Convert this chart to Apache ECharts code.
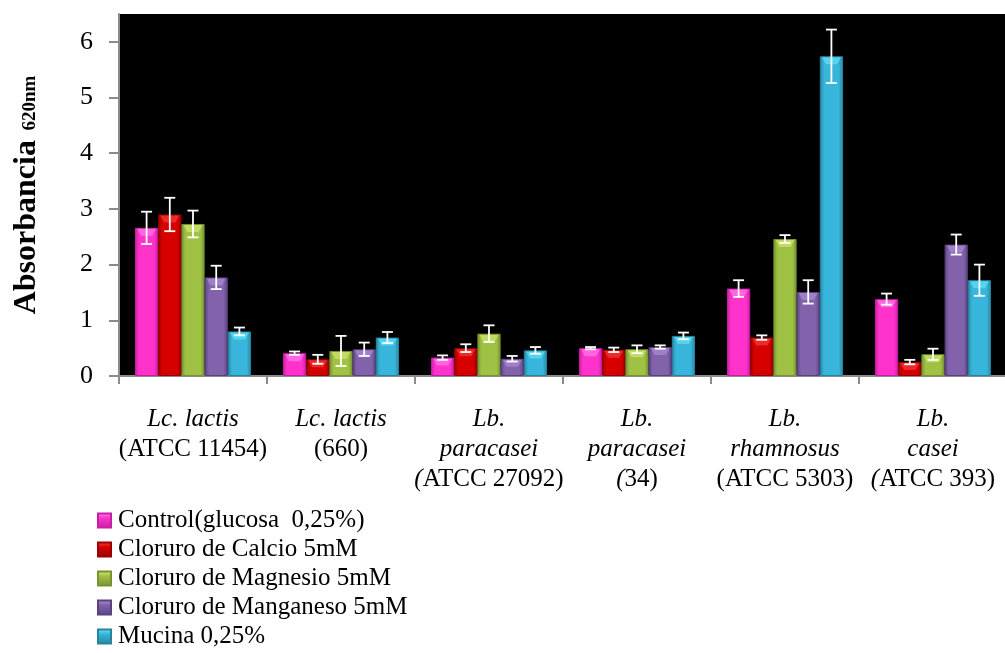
<!DOCTYPE html>
<html>
<head>
<meta charset="utf-8">
<script src="https://cdn.jsdelivr.net/npm/echarts@6/dist/echarts.min.js"></script>
<style>
  html, body { margin: 0; padding: 0; background: #ffffff; }
  #chart { width: 1005px; height: 653px; }
</style>
</head>
<body>
<div id="chart"></div>
<script>
// Strains (species in italics, strain code upright)
const categories = [
  '{i|Lc. lactis}\n{n|(ATCC 11454)}',
  '{i|Lc. lactis}\n{n|(660)}',
  '{i|Lb.}\n{i|paracasei}\n{i|(}{n|ATCC 27092)}',
  '{i|Lb.}\n{i|paracasei}\n{i|(}{n|34)}',
  '{i|Lb.}\n{i|rhamnosus}\n{n|(ATCC 5303)}',
  '{i|Lb.}\n{i|casei}\n{i|(}{n|ATCC 393)}'
];

const seriesNames = [
  'Control(glucosa  0,25%)',
  'Cloruro de Calcio 5mM',
  'Cloruro de Magnesio 5mM',
  'Cloruro de Manganeso 5mM',
  'Mucina 0,25%'
];

// Mean absorbance at 620 nm and error per condition
const control      = [2.66, 0.41, 0.33, 0.50, 1.57, 1.38];
const controlErr   = [0.29, 0.03, 0.04, 0.02, 0.15, 0.10];
const calcio       = [2.90, 0.30, 0.50, 0.47, 0.69, 0.25];
const calcioErr    = [0.30, 0.08, 0.07, 0.04, 0.04, 0.04];
const magnesio     = [2.73, 0.45, 0.76, 0.48, 2.46, 0.39];
const magnesioErr  = [0.24, 0.27, 0.15, 0.07, 0.07, 0.10];
const manganeso    = [1.77, 0.48, 0.31, 0.52, 1.51, 2.36];
const manganesoErr = [0.21, 0.12, 0.05, 0.03, 0.21, 0.18];
const mucina       = [0.80, 0.69, 0.46, 0.72, 5.74, 1.72];
const mucinaErr    = [0.07, 0.10, 0.06, 0.06, 0.48, 0.28];

const yTicks = [0, 1, 2, 3, 4, 5, 6];

const values = [control, calcio, magnesio, manganeso, mucina];
const errors = [controlErr, calcioErr, magnesioErr, manganesoErr, mucinaErr];

// edge, body, highlight colours for each condition
const palette = [
  ['#c81ea3', '#ff33cc', '#ff8cf2'],
  ['#9a0000', '#d70000', '#ff4a4a'],
  ['#789230', '#a0c244', '#dcf27a'],
  ['#5a4282', '#8262aa', '#b898e4'],
  ['#27849f', '#37b5da', '#6eecff']
];

const FONT = "'Liberation Serif', 'Times New Roman', serif";
const CAT_GAP = 0.216;

function bodyFill(p) {
  return new echarts.graphic.LinearGradient(0, 0, 1, 0, [
    { offset: 0, color: p[0] },
    { offset: 0.18, color: p[1] },
    { offset: 0.82, color: p[1] },
    { offset: 1, color: p[0] }
  ]);
}

function legendFill(p) {
  return new echarts.graphic.LinearGradient(0, 0, 0, 1, [
    { offset: 0, color: p[2] },
    { offset: 0.35, color: p[1] },
    { offset: 1, color: p[0] }
  ]);
}

const barSeries = seriesNames.map((name, s) => ({
  name: name,
  type: 'bar',
  data: values[s],
  barGap: '0%',
  barCategoryGap: (CAT_GAP * 100) + '%',
  itemStyle: {
    color: bodyFill(palette[s]),
    borderColor: palette[s][0],
    borderWidth: 1
  },
  emphasis: { disabled: true },
  z: 2
}));

// Error bars: one point per bar, [category, mean, err, seriesIndex]
const errData = [];
values.forEach((arr, s) => arr.forEach((v, c) => errData.push([c, v, errors[s][c], s])));

const errSeries = {
  type: 'custom',
  data: errData,
  z: 5,
  silent: true,
  renderItem: function (params, api) {
    const c = api.value(0), v = api.value(1), e = api.value(2), s = api.value(3);
    const band = api.size([1, 0])[0];
    const bw = band * (1 - CAT_GAP) / values.length;
    const x = api.coord([c, v])[0] + (s - (values.length - 1) / 2) * bw;
    const yTop = api.coord([c, v + e])[1];
    const yBot = api.coord([c, Math.max(v - e, 0)])[1];
    const cap = 5.5;
    const st = { stroke: '#ffffff', lineWidth: 1.8 };
    const topY = api.coord([c, v])[1];
    return {
      type: 'group',
      children: [
        // glossy cap on the bar top
        {
          type: 'polygon',
          shape: { points: [[x - bw / 2 + 2, topY + 1], [x + bw / 2 - 2, topY + 1], [x + bw / 2 - 6, topY + 8], [x - bw / 2 + 6, topY + 8]] },
          style: { fill: palette[s][2], opacity: 0.55 }
        },
        { type: 'line', shape: { x1: x, y1: yTop, x2: x, y2: yBot }, style: st },
        { type: 'line', shape: { x1: x - cap, y1: yTop, x2: x + cap, y2: yTop }, style: st },
        { type: 'line', shape: { x1: x - cap, y1: yBot, x2: x + cap, y2: yBot }, style: st }
      ]
    };
  }
};

const chart = echarts.init(document.getElementById('chart'), null, { renderer: 'canvas' });

chart.setOption({
  animation: false,
  backgroundColor: '#ffffff',
  color: palette.map(p => p[1]),
  grid: {
    left: 119, top: 14, right: -2, bottom: 277,
    outerBoundsMode: 'none',
    containLabel: false,
    show: true, backgroundColor: '#000000', borderWidth: 0
  },
  legend: {
    orient: 'vertical',
    left: 97,
    top: 506,
    padding: 0,
    height: 160,
    itemWidth: 13,
    itemHeight: 14,
    itemGap: 0,
    icon: 'rect',
    data: seriesNames.map((n, s) => ({ name: n, itemStyle: { color: legendFill(palette[s]) } })),
    textStyle: { fontFamily: FONT, fontSize: 25, color: '#000', lineHeight: 29, padding: [0, 0, 0, 2] }
  },
  xAxis: {
    type: 'category',
    data: categories,
    boundaryGap: true,
    axisLine: { lineStyle: { color: '#8a8a8a', width: 2 } },
    axisTick: { show: true, interval: 0, length: 8, lineStyle: { color: '#8a8a8a', width: 2 } },
    axisLabel: {
      interval: 0,
      margin: 28,
      color: '#000',
      fontFamily: FONT,
      fontSize: 25,
      lineHeight: 30,
      rich: {
        i: { fontStyle: 'italic', fontFamily: FONT, fontSize: 25, lineHeight: 30, color: '#000' },
        n: { fontFamily: FONT, fontSize: 25, lineHeight: 30, color: '#000' }
      }
    }
  },
  yAxis: {
    type: 'value',
    min: 0,
    max: 6.5,
    interval: 1,
    splitLine: { show: false },
    axisLine: { show: true, lineStyle: { color: '#8a8a8a', width: 2 } },
    axisTick: { show: true, length: 10, customValues: yTicks, lineStyle: { color: '#8a8a8a', width: 2 } },
    axisLabel: {
      customValues: yTicks,
      margin: 26,
      color: '#000',
      fontFamily: FONT,
      fontSize: 26
    },
    name: '{a|Absorbancia}{s|  620nm}',
    nameLocation: 'middle',
    nameRotate: 90,
    nameGap: 76,
    nameTextStyle: {
      rich: {
        a: { fontFamily: FONT, fontWeight: 'bold', fontSize: 32, color: '#000', verticalAlign: 'bottom', lineHeight: 36 },
        s: { fontFamily: FONT, fontWeight: 'bold', fontSize: 19, color: '#000', verticalAlign: 'bottom', lineHeight: 36, padding: [0, 0, 3, 0] }
      }
    }
  },
  series: barSeries.concat([errSeries])
});
</script>
</body>
</html>
